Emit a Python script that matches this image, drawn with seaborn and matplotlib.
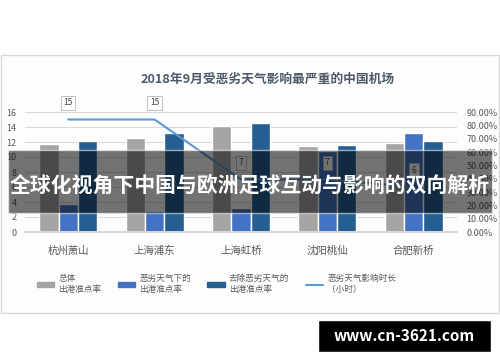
import numpy as np
import pandas as pd
import seaborn as sns
import matplotlib.pyplot as plt
from matplotlib.patches import Rectangle, Patch
from matplotlib.lines import Line2D

# data
airports = ['杭州萧山', '上海浦东', '上海虹桥', '沈阳桃仙', '合肥新桥']
overall_rate = [66.0, 70.6, 79.7, 64.5, 67.0]      # 总体出港准点率 (%)
bad_weather_rate = [21.0, 15.8, 17.8, 60.5, 74.5]  # 恶劣天气下的出港准点率 (%)
clear_rate = [68.3, 74.0, 82.0, 65.0, 68.0]        # 去除恶劣天气的出港准点率 (%)
impact_hours = [15, 15, 7, 7, 6]                   # 恶劣天气影响时长 (小时)

series_names = ['总体\n出港准点率', '恶劣天气下的\n出港准点率', '去除恶劣天气的\n出港准点率']
line_name = '恶劣天气影响时长\n（小时）'
colors = ['#a5a5a5', '#4472c4', '#255e91']
line_color = '#5b9bd5'

sns.set_theme(style='white')
plt.rcParams['font.family'] = ['Noto Sans CJK SC', 'DejaVu Sans']

df = pd.DataFrame({
    'airport': airports * 3,
    'rate': overall_rate + bad_weather_rate + clear_rate,
    'series': [s for s in series_names for _ in airports],
})

fig = plt.figure(figsize=(5.0, 3.62), dpi=100)
fig.patch.set_facecolor('white')

# chart frame
fig.patches.append(Rectangle((0.001, 1 - 313 / 362), 0.997, (313 - 55) / 362,
                             transform=fig.transFigure, facecolor='#fdfdfd',
                             edgecolor='#d9d9d9', linewidth=1.0, zorder=-5))

ax = fig.add_axes([25 / 500, 1 - 232 / 362, 432 / 500, 120 / 362])
ax.set_facecolor('none')
sns.barplot(data=df, x='airport', y='rate', hue='series', palette=colors,
            width=0.67, gap=0, ax=ax, legend=False, saturation=1)

ax2 = ax.twinx()
sns.lineplot(x=np.arange(len(airports)), y=impact_hours, ax=ax2,
             color=line_color, linewidth=1.5)

# bars: percent scale on the right
ax.set_ylim(0, 90)
ax.set_yticks(np.arange(0, 91, 10))
ax.set_yticklabels([f'{v:.2f}%' for v in np.arange(0, 91, 10)])
ax.yaxis.tick_right()
ax.tick_params(axis='y', labelsize=6.5, colors='#595959', length=0, pad=7)
ax.tick_params(axis='x', labelsize=7.5, colors='#595959', length=0, pad=10)
ax.set_xlabel('')
ax.set_ylabel('')
ax.set_xlim(-0.5, len(airports) - 0.5)

# line: hours scale on the left
ax2.set_ylim(0, 16)
ax2.set_yticks(np.arange(0, 17, 2))
ax2.yaxis.tick_left()
ax2.tick_params(axis='y', labelsize=6.5, colors='#595959', length=0, pad=6)
ax2.set_ylabel('')
ax2.patch.set_visible(False)

# horizontal gridlines follow the left (hours) scale, drawn behind the bars
for v in np.arange(0, 17, 2):
    ax.axhline(v * 90 / 16, color='#d9d9d9', linewidth=0.8, zorder=0)

for a in (ax, ax2):
    for side in ['top', 'left', 'right']:
        a.spines[side].set_visible(False)
    a.spines['bottom'].set_color('#d9d9d9')

for i, h in enumerate(impact_hours):
    ax2.annotate(str(h), (i, h), xytext=(0, 12), textcoords='offset points',
                 ha='center', va='center', fontsize=6, color='#404040',
                 bbox=dict(boxstyle='square,pad=0.3', fc='white', ec='#bfbfbf', lw=0.7))

fig.text(268 / 500, 1 - 79 / 362, '2018年9月受恶劣天气影响最严重的中国机场',
         ha='center', va='center', fontsize=9.2, fontweight='bold', color='#4d5a6a')

handles = [Patch(color=c) for c in colors] + [Line2D([], [], color=line_color, lw=1.5)]
fig.legend(handles, series_names + [line_name], loc='center left',
           bbox_to_anchor=(29 / 500, 1 - 284 / 362), ncol=4, frameon=False,
           fontsize=6.2, handlelength=2.0, handleheight=0.5, columnspacing=1.9,
           handletextpad=0.5, labelcolor='#595959')

# overlay banner
fig.patches.append(Rectangle((8 / 500, 1 - 213 / 362), 484 / 500, 63 / 362,
                             transform=fig.transFigure, facecolor='black',
                             alpha=0.55, zorder=5))
fig.text(0.5, 1 - 185 / 362, '全球化视角下中国与欧洲足球互动与影响的双向解析',
         ha='center', va='center', fontsize=15, fontweight='bold', color='white', zorder=6)

# watermark
fig.patches.append(Rectangle((318 / 500, 1 - 352 / 362), 173 / 500, 32 / 362,
                             transform=fig.transFigure, facecolor='black', zorder=5))
fig.text(404 / 500, 1 - 336 / 362, 'www.cn-3621.com', ha='center', va='center',
         fontsize=11, fontweight='bold', color='white', zorder=6)

fig.savefig('out.png', dpi=100)
